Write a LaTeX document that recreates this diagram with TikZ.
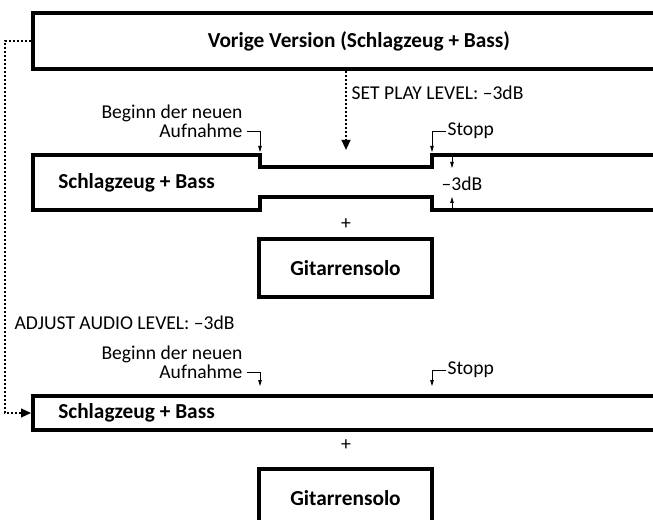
\documentclass[tikz,border=0pt]{standalone}
\usepackage{fontspec}
\setmainfont{Carlito}
\usetikzlibrary{arrows.meta,positioning,calc}

\begin{document}
\begin{tikzpicture}[x=0.75pt, y=-0.75pt,
  bar/.style={
    rectangle, draw, line width=2.9pt, inner sep=0pt,
    minimum width=489pt, font=\bfseries\fontsize{16}{18}\selectfont
  },
  solo/.style={
    rectangle, draw, line width=2.8pt, inner sep=0pt,
    minimum width=129.75pt, minimum height=43.5pt,
    font=\bfseries\fontsize{16}{18}\selectfont
  },
  trackname/.style={inner sep=0pt, anchor=west, font=\bfseries\fontsize{16}{18}\selectfont},
  hint/.style={inner sep=1pt, font=\fontsize{14.7}{14.3}\selectfont},
  trackline/.style={line width=2.8pt, line join=miter},
  pointer/.style={line width=0.6pt, -{Triangle[length=4.5pt, width=2.6pt]}},
  dotline/.style={line width=1.5pt, dash pattern=on 1.5pt off 1.5pt,
    -{Triangle[length=7.5pt, width=6.5pt]}}
]
  \useasboundingbox (0,0) rectangle (653,520);
  \clip (0,0) rectangle (653,520);

  % oberer Teil
  \node[bar, minimum height=42pt] (prev) at (359,41) {Vorige Version (Schlagzeug + Bass)};
  \coordinate (setlvl) at (346,150);
  \draw[dotline] (prev.south -| setlvl) -- (setlvl);
  \node[hint, anchor=west] (setlbl) at (350,93) {SET PLAY LEVEL: –3dB};

  \coordinate (cutA) at (260,155);
  \coordinate (cutB) at (432,155);
  \draw[trackline] (690,155) -- (cutB) -- (432,167) -- (260,167) -- (cutA)
    -- (33,155) -- (33,210) -- (260,210) -- (260,197) -- (432,197)
    -- (432,210) -- (690,210);
  \node[trackname] (track1) at (58,183) {Schlagzeug + Bass};

  \node[hint, anchor=east, align=right] (start1) at (244,121) {Beginn der neuen\\Aufnahme};
  \draw[pointer] ($(start1.east)+(3,10)$) -| ($(cutA)+(0,-3)$);
  \node[hint, anchor=west] (stop1) at (446,131) {Stopp};
  \draw[pointer] (stop1.west) -| ($(cutB)+(0,-3)$);

  \node[hint, anchor=west] (db) at (440,184) {–3dB};
  \coordinate (dbA) at (452,157);
  \coordinate (dbB) at (452,168);
  \coordinate (dbC) at (452,209);
  \coordinate (dbD) at (452,197);
  \draw[pointer] (dbA) -- (dbB);
  \draw[pointer] (dbC) -- (dbD);

  \node[hint] (plus1) at (346,224) {+};
  \node[solo] (solo1) at (345.5,268) {Gitarrensolo};

  % unterer Teil
  \node[hint, anchor=west] (adjlbl) at (13,323) {ADJUST AUDIO LEVEL: –3dB};
  \node[hint, anchor=east, align=right] (start2) at (244,362) {Beginn der neuen\\Aufnahme};
  \node[hint, anchor=west] (stop2) at (446,370) {Stopp};

  \node[bar, minimum height=25.5pt] (track2) at (359,413) {};
  \node[trackname] (track2lbl) at (58,413) {Schlagzeug + Bass};
  \draw[pointer] ($(start2.east)+(3,10)$) -| ($(track2.north west -| cutA)+(0,-8)$);
  \draw[pointer] (stop2.west) -| ($(track2.north west -| cutB)+(0,-8)$);

  \draw[dotline] (prev.west) -- ++(-26,0) |- (track2.west);

  \node[hint] (plus2) at (346,445) {+};
  \node[solo] (solo2) at (345.5,498) {Gitarrensolo};
\end{tikzpicture}
\end{document}
